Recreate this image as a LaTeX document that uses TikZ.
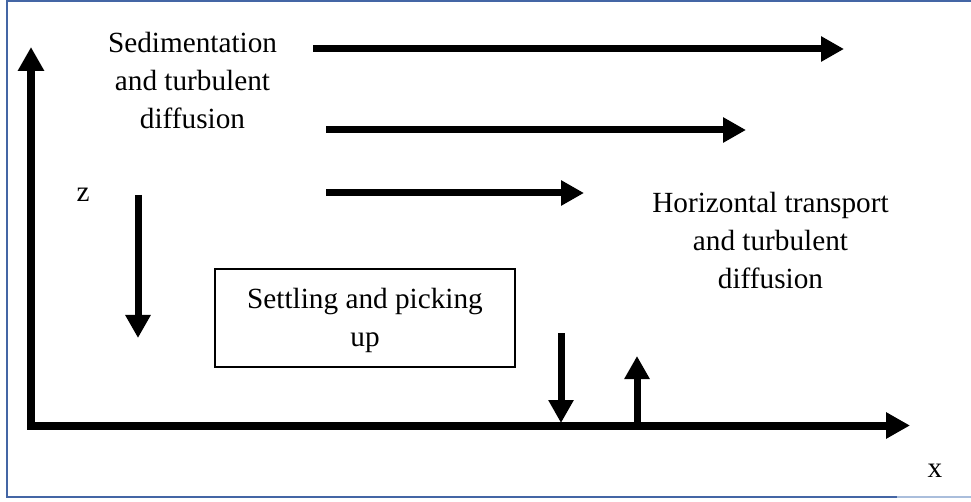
\documentclass[tikz,border=0pt]{standalone}
\usepackage{fontspec}
\setmainfont{Liberation Serif}
\usetikzlibrary{arrows.meta}
\definecolor{frameblue}{RGB}{68,102,165}
\definecolor{framelight}{RGB}{170,190,220}
\tikzset{
  lbl/.style={inner sep=0pt, align=center, font=\fontsize{29.25}{38}\selectfont},
  small/.style={inner sep=0pt, font=\fontsize{29.25}{38}\selectfont},
  flow/.style={line width=7pt, -{Triangle[length=23pt,width=24pt]}},
  axis/.style={line width=8pt, -{Triangle[length=24pt,width=25pt]}},
  frame/.style={draw=frameblue, line width=2pt},
}
\begin{document}
\begin{tikzpicture}[x=1pt,y=-1pt]
\useasboundingbox (0,0) rectangle (971,502);
% frame
\draw[frame] (975,1) -- (7,1) -- (7,497) -- (897,497);
\draw[draw=framelight, line width=2pt] (897,497) -- (971,497);
% axes
\coordinate (zbot) at (31,429);
\coordinate (ztop) at (31,47);
\coordinate (xleft) at (27,425.5);
\coordinate (xright) at (910,425.5);
\draw[axis] (zbot) -- (ztop);
\draw[axis] (xleft) -- (xright);
% horizontal flow arrows
\coordinate (a1s) at (313,49);  \coordinate (a1e) at (844,49);
\coordinate (a2s) at (326,130); \coordinate (a2e) at (746,130);
\coordinate (a3s) at (326,193); \coordinate (a3e) at (584,193);
\draw[flow] (a1s) -- (a1e);
\draw[flow] (a2s) -- (a2e);
\draw[flow] (a3s) -- (a3e);
% vertical arrows
\coordinate (d1s) at (138,195); \coordinate (d1e) at (138,338);
\coordinate (d2s) at (561,333); \coordinate (d2e) at (561,423);
\coordinate (u1s) at (637,423); \coordinate (u1e) at (637,356);
\draw[flow] (d1s) -- (d1e);
\draw[flow] (d2s) -- (d2e);
\draw[flow] (u1s) -- (u1e);
% texts
\node[lbl] (sed) at (192.5,80.5) {Sedimentation\\and turbulent\\diffusion};
\node[lbl] (hor) at (770.5,240) {Horizontal transport\\and turbulent\\diffusion};
\node[small] (zl) at (83,195) {z};
\node[small] (xl) at (935,471) {x};
\node[draw, line width=2.5pt, minimum width=300pt, minimum height=98pt] (box) at (365,318) {};
\node[lbl] (boxtext) at (365,320.5) {Settling and picking\\up};
\end{tikzpicture}
\end{document}
